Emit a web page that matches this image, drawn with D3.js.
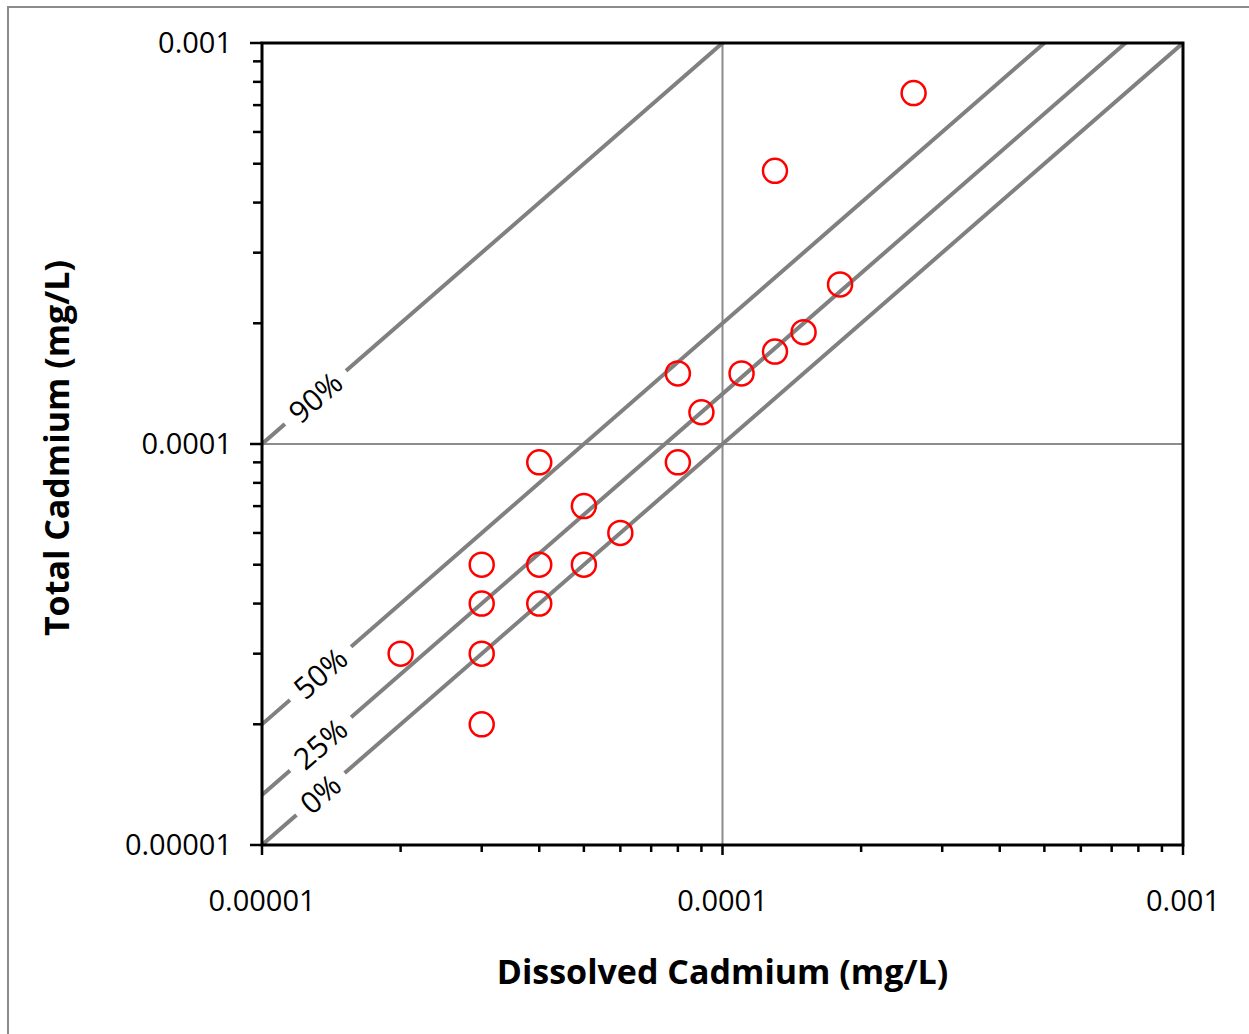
<!DOCTYPE html>
<html>
<head>
<meta charset="utf-8">
<script src="https://cdn.jsdelivr.net/npm/d3@7"></script>
<style>
  body { margin: 0; background: #fff; }
  text { font-family: "Open Sans", "Noto Sans", sans-serif; }
</style>
</head>
<body>
<svg width="1249" height="1034"></svg>
<script>
var svg = d3.select("svg"),
    width = +svg.attr("width"),
    height = +svg.attr("height");

// measured samples (mg/L)
var dissolved = [0.00026, 0.00013, 0.00018, 0.00015, 0.00013, 0.00011, 0.00008, 0.00009,
                 0.00008, 0.00004, 0.00005, 0.00006, 0.00003, 0.00004, 0.00005, 0.00003,
                 0.00004, 0.00002, 0.00003, 0.00003];
var total     = [0.00075, 0.00048, 0.00025, 0.00019, 0.00017, 0.00015, 0.00015, 0.00012,
                 0.00009, 0.00009, 0.00007, 0.00006, 0.00005, 0.00005, 0.00005, 0.00004,
                 0.00004, 0.00003, 0.00003, 0.00002];

// reference lines: total = dissolved / (1 - fraction particulate)
var refPercents = [0, 25, 50, 90];
var majorTicks = [0.00001, 0.0001, 0.001];
var tickLabels = ["0.00001", "0.0001", "0.001"];

var margin = {left: 262, top: 43, right: 66, bottom: 189};
var plotW = width - margin.left - margin.right,
    plotH = height - margin.top - margin.bottom;

var x = d3.scaleLog().domain([0.00001, 0.001]).range([margin.left, margin.left + plotW]);
var y = d3.scaleLog().domain([0.00001, 0.001]).range([margin.top + plotH, margin.top]);

// minor ticks 2..9 within each decade
var minorTicks = [];
[0.00001, 0.0001].forEach(function(d) {
  for (var k = 2; k <= 9; k++) minorTicks.push(d * k);
});

// outer chart border
svg.append("rect")
  .attr("x", 8).attr("y", 7)
  .attr("width", width + 10).attr("height", height + 10)
  .attr("fill", "none").attr("stroke", "#8c8c8c").attr("stroke-width", 2);

// gridlines at middle decade
var grid = svg.append("g").attr("class", "grid");
grid.append("line")
  .attr("x1", x(0.0001)).attr("x2", x(0.0001))
  .attr("y1", y(0.00001)).attr("y2", y(0.001))
  .attr("stroke", "#8c8c8c").attr("stroke-width", 2);
grid.append("line")
  .attr("x1", x(0.00001)).attr("x2", x(0.001))
  .attr("y1", y(0.0001)).attr("y2", y(0.0001))
  .attr("stroke", "#8c8c8c").attr("stroke-width", 2);

// reference lines, clipped to plot area
svg.append("clipPath").attr("id", "plotclip")
  .append("rect")
  .attr("x", margin.left).attr("y", margin.top)
  .attr("width", plotW).attr("height", plotH);

var refG = svg.append("g").attr("clip-path", "url(#plotclip)");
refPercents.forEach(function(p) {
  var f = 1 / (1 - p / 100);
  refG.append("line")
    .attr("x1", x(0.00001)).attr("y1", y(0.00001 * f))
    .attr("x2", x(0.001)).attr("y2", y(0.001 * f))
    .attr("stroke", "#808080").attr("stroke-width", 4);
});

// line labels with white background knocking out the line
var angle = Math.atan2(y(0.00001) - y(0.0001), x(0.0001) - x(0.00001)) * 180 / Math.PI;
var labelAt = 0.0000134;
refPercents.forEach(function(p) {
  var f = 1 / (1 - p / 100);
  var lx = labelAt * (p === 90 ? 0.975 : 1);
  var g = svg.append("g")
    .attr("transform", "translate(" + x(lx) + "," + y(lx * f) + ") rotate(" + (-angle) + ")");
  var t = g.append("text")
    .attr("text-anchor", "middle")
    .attr("dy", "0.36em")
    .attr("font-size", 30)
    .attr("fill", "#000")
    .text(p + "%");
  var bb = t.node().getBBox();
  g.insert("rect", "text")
    .attr("x", bb.x - 11).attr("y", -8)
    .attr("width", bb.width + 22).attr("height", 16)
    .attr("fill", "#fff");
});

// axes
var yAxisG = svg.append("g");
yAxisG.selectAll("line.minor").data(minorTicks).enter().append("line")
  .attr("x1", margin.left - 9).attr("x2", margin.left)
  .attr("y1", function(d) { return y(d); }).attr("y2", function(d) { return y(d); })
  .attr("stroke", "#000").attr("stroke-width", 2.5);
yAxisG.selectAll("line.major").data(majorTicks).enter().append("line")
  .attr("x1", margin.left - 12).attr("x2", margin.left)
  .attr("y1", function(d) { return y(d); }).attr("y2", function(d) { return y(d); })
  .attr("stroke", "#000").attr("stroke-width", 2.5);
yAxisG.selectAll("text").data(majorTicks).enter().append("text")
  .attr("x", margin.left - 30)
  .attr("y", function(d) { return y(d); })
  .attr("dy", "0.36em")
  .attr("text-anchor", "end")
  .attr("font-size", 29)
  .text(function(d, i) { return tickLabels[i]; });

var xAxisG = svg.append("g");
xAxisG.selectAll("line.minor").data(minorTicks).enter().append("line")
  .attr("y1", y(0.00001)).attr("y2", y(0.00001) + 7)
  .attr("x1", function(d) { return x(d); }).attr("x2", function(d) { return x(d); })
  .attr("stroke", "#000").attr("stroke-width", 2.5);
xAxisG.selectAll("line.major").data(majorTicks).enter().append("line")
  .attr("y1", y(0.00001)).attr("y2", y(0.00001) + 10)
  .attr("x1", function(d) { return x(d); }).attr("x2", function(d) { return x(d); })
  .attr("stroke", "#000").attr("stroke-width", 2.5);
xAxisG.selectAll("text").data(majorTicks).enter().append("text")
  .attr("x", function(d) { return x(d); })
  .attr("y", y(0.00001) + 66)
  .attr("text-anchor", "middle")
  .attr("font-size", 29)
  .text(function(d, i) { return tickLabels[i]; });

// plot frame
svg.append("rect")
  .attr("x", margin.left).attr("y", margin.top)
  .attr("width", plotW).attr("height", plotH)
  .attr("fill", "none").attr("stroke", "#000").attr("stroke-width", 3);

// data points
svg.append("g").selectAll("circle")
  .data(dissolved.map(function(d, i) { return [d, total[i]]; }))
  .enter().append("circle")
  .attr("cx", function(d) { return x(d[0]); })
  .attr("cy", function(d) { return y(d[1]); })
  .attr("r", 12)
  .attr("fill", "none")
  .attr("stroke", "#ff0000")
  .attr("stroke-width", 2.5);

// axis titles
svg.append("text")
  .attr("x", x(0.0001)).attr("y", 984)
  .attr("text-anchor", "middle")
  .attr("font-size", 34).attr("font-weight", "bold")
  .text("Dissolved Cadmium (mg/L)");

svg.append("text")
  .attr("transform", "translate(69," + (y(0.0001) + 4) + ") rotate(-90)")
  .attr("text-anchor", "middle")
  .attr("font-size", 34).attr("font-weight", "bold")
  .text("Total Cadmium (mg/L)");
</script>
</body>
</html>
